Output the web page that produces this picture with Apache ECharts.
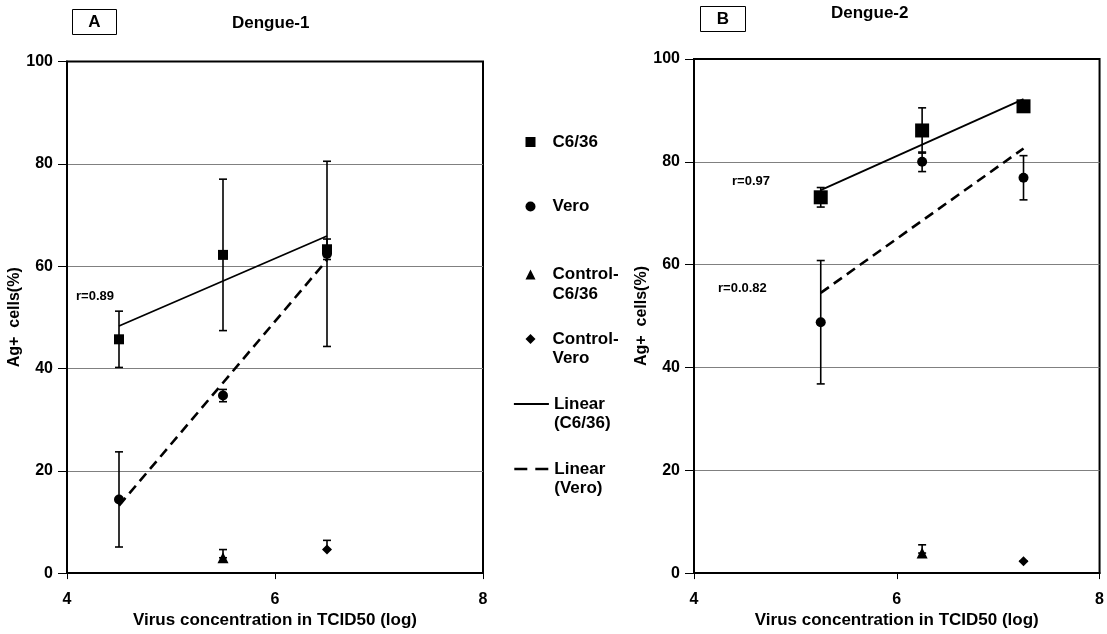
<!DOCTYPE html>
<html>
<head>
<meta charset="utf-8">
<script src="https://cdn.jsdelivr.net/npm/echarts@6/dist/echarts.min.js"></script>
<style>
  html, body { margin: 0; padding: 0; background: #fff; }
  #main { width: 1107px; height: 634px; }
</style>
</head>
<body>
<div id="main"></div>
<script>
var FONT = '"Liberation Sans", Arial, sans-serif'

// Dengue-1 (panel A)
var xA = [4.5, 5.5, 6.5]
var aC636 = [45.7, 62.2, 63.3]
var aC636Err = [5.5, 14.8, 2]
var aVero = [14.4, 34.7, 62.4]
var aVeroErr = [9.3, 1.2, 18.1]
var aCtrlX = [5.5, 6.5]
var aCtrlC636 = [3.0]
var aCtrlC636Err = [1.6]
var aCtrlVero = [4.6]
var aCtrlVeroErr = [1.8]
var aC636Fit = [[4.5, 48.3], [6.5, 65.9]]
var aVeroFit = [[4.5, 13.2], [6.5, 61.2]]

// Dengue-2 (panel B)
var xB = [5.25, 6.25, 7.25]
var bC636 = [73.1, 86.1, 90.8]
var bC636Err = [1.9, 4.4, 0.8]
var bVero = [48.8, 80.0, 76.9]
var bVeroErr = [12, 1.9, 4.3]
var bCtrlX = [6.25, 7.25]
var bCtrlC636 = [3.9]
var bCtrlC636Err = [1.6]
var bCtrlVero = [2.3]
var bCtrlVeroErr = [0]
var bC636Fit = [[5.25, 74.5], [7.25, 92.2]]
var bVeroFit = [[5.25, 54.5], [7.25, 82.6]]

var xTicks = [4, 6, 8]
var yTicks = [0, 20, 40, 60, 80, 100]

var legendLabels = {
  'C6/36': ['C6/36'],
  'Vero': ['Vero'],
  'Control-C6/36': ['Control-', 'C6/36'],
  'Control-Vero': ['Control-', 'Vero'],
  'Linear (C6/36)': ['Linear', '(C6/36)'],
  'Linear (Vero)': ['Linear', '(Vero)']
}

function pts(xs, ys) {
  return ys.map(function(y, i) { return [xs[i], y] })
}
// [x, y, top, bottom]
function errRows(xs, ys, err, plusOnly) {
  return ys.map(function(y, i) {
    return [xs[i], y, y + err[i], plusOnly ? y : y - err[i]]
  })
}

function errSeries(idx, rows) {
  return {
    type: 'custom',
    name: 'err' + idx,
    xAxisIndex: idx,
    yAxisIndex: idx,
    z: 1,
    silent: true,
    encode: { x: 0, y: [1, 2, 3] },
    renderItem: function(params, api) {
      var top = api.coord([api.value(0), api.value(2)])
      var bot = api.coord([api.value(0), api.value(3)])
      var w = 4
      var st = { stroke: '#000', lineWidth: 1.6 }
      return {
        type: 'group',
        children: [
          { type: 'line', shape: { x1: top[0], y1: top[1], x2: bot[0], y2: bot[1] }, style: st },
          { type: 'line', shape: { x1: top[0] - w, y1: top[1], x2: top[0] + w, y2: top[1] }, style: st },
          { type: 'line', shape: { x1: bot[0] - w, y1: bot[1], x2: bot[0] + w, y2: bot[1] }, style: st }
        ]
      }
    },
    data: rows
  }
}

function scatter(idx, name, symbol, size, data) {
  return {
    type: 'scatter',
    name: name,
    xAxisIndex: idx,
    yAxisIndex: idx,
    symbol: symbol,
    symbolSize: size,
    itemStyle: { color: '#000', opacity: 1 },
    z: 3,
    data: data
  }
}

function fit(idx, name, dashed, data) {
  return {
    type: 'line',
    name: name,
    xAxisIndex: idx,
    yAxisIndex: idx,
    symbol: 'none',
    z: 2,
    lineStyle: dashed ? { color: '#000', width: 2.6, type: [10, 6] } : { color: '#000', width: 1.8 },
    itemStyle: { color: '#000' },
    data: data
  }
}

function xAxisOf(idx) {
  return {
    type: 'value', gridIndex: idx, min: 4, max: 8, interval: 2,
    name: 'Virus concentration in TCID50 (log)',
    nameLocation: 'middle', nameGap: 36,
    nameTextStyle: { fontFamily: FONT, fontWeight: 'bold', fontSize: 17, color: '#000' },
    axisLine: { lineStyle: { color: '#000', width: 2 } },
    axisTick: { length: 6, lineStyle: { color: '#000', width: 1 } },
    axisLabel: { margin: 18, fontFamily: FONT, fontWeight: 'bold', fontSize: 16, color: '#000',
      formatter: function(v) { return xTicks.indexOf(v) >= 0 ? String(v) : '' } },
    splitLine: { show: false }
  }
}

function yAxisOf(idx) {
  return {
    type: 'value', gridIndex: idx, min: 0, max: 100, interval: 20,
    name: 'Ag+  cells(%)',
    nameLocation: 'middle', nameGap: 33, nameRotate: 90,
    nameTextStyle: { fontFamily: FONT, fontWeight: 'bold', fontSize: 16, color: '#000' },
    axisLine: { lineStyle: { color: '#000', width: 2 } },
    axisTick: { length: 9, lineStyle: { color: '#000', width: 1 } },
    axisLabel: { margin: 14, fontFamily: FONT, fontWeight: 'bold', fontSize: 16, color: '#000',
      formatter: function(v) { return yTicks.indexOf(v) >= 0 ? String(v) : '' } },
    splitLine: { show: true, showMinLine: false, showMaxLine: false, lineStyle: { color: '#808080', width: 1 } }
  }
}

// one legend block per entry; the icon lines up with the first text line
// (an empty line above keeps the two-line blocks centred on the icon)
function legendAt(name, top, isLine, dash) {
  var lines = legendLabels[name]
  var pad = isLine ? '' : '{p|\u00a0}'
  var text = lines.map(function(l) { return pad + '{t|' + l + '}' })
  if (lines.length > 1) text.unshift('{t|\u00a0}')
  var lg = {
    left: isLine ? 513 : 525.5, top: top, orient: 'vertical',
    itemWidth: isLine ? 35 : 10, itemHeight: 10, itemGap: 0,
    selectedMode: false, padding: 0,
    formatter: function() { return text.join('\n') },
    textStyle: {
      color: '#000',
      rich: {
        p: { width: 12 },
        t: { fontFamily: FONT, fontWeight: 'bold', fontSize: 17, color: '#000', lineHeight: 19.5 }
      }
    },
    data: [name]
  }
  if (isLine) {
    lg.itemStyle = { opacity: 0 }
    lg.lineStyle = dash ? { color: '#000', width: 2.6, type: [13, 8] } : { color: '#000', width: 1.8 }
  }
  return lg
}

function txt(x, y, s, size, align) {
  return {
    type: 'text', x: x, y: y,
    style: { text: s, font: 'bold ' + size + 'px ' + FONT, fill: '#000',
      textAlign: align || 'left', textVerticalAlign: 'middle' }
  }
}

var chart = echarts.init(document.getElementById('main'), null, { renderer: 'canvas' })

var option = {
  animation: false,
  backgroundColor: '#fff',
  grid: [
    { left: 67, top: 61.5, width: 416, height: 516.5, show: true, borderColor: '#000', borderWidth: 2, containLabel: false },
    { left: 694, top: 59, width: 411, height: 517, show: true, borderColor: '#000', borderWidth: 2, containLabel: false }
  ],
  xAxis: [xAxisOf(0), xAxisOf(1)],
  yAxis: [yAxisOf(0), yAxisOf(1)],
  legend: [
    legendAt('C6/36', 133.5, false),
    legendAt('Vero', 198, false),
    legendAt('Control-C6/36', 246.5, false),
    legendAt('Control-Vero', 311, false),
    legendAt('Linear (C6/36)', 376, true, false),
    legendAt('Linear (Vero)', 441, true, true)
  ],
  graphic: [
    { type: 'rect', shape: { x: 72.5, y: 9.5, width: 44, height: 25 }, style: { fill: '#fff', stroke: '#000', lineWidth: 1 } },
    txt(94.5, 22.5, 'A', 17, 'center'),
    txt(232, 23, 'Dengue-1', 17),
    { type: 'rect', shape: { x: 700.5, y: 6.5, width: 45, height: 25 }, style: { fill: '#fff', stroke: '#000', lineWidth: 1 } },
    txt(723, 19.5, 'B', 17, 'center'),
    txt(831, 13, 'Dengue-2', 17),
    txt(76, 296, 'r=0.89', 13),
    txt(732, 181, 'r=0.97', 13),
    txt(718, 288, 'r=0.0.82', 13)
  ],
  series: [
    errSeries(0, errRows(xA, aC636, aC636Err)
      .concat(errRows(xA, aVero, aVeroErr))
      .concat(errRows([aCtrlX[0]], aCtrlC636, aCtrlC636Err, true))
      .concat(errRows([aCtrlX[1]], aCtrlVero, aCtrlVeroErr, true))),
    scatter(0, 'C6/36', 'rect', 10, pts(xA, aC636)),
    scatter(0, 'Vero', 'circle', 10, pts(xA, aVero)),
    scatter(0, 'Control-C6/36', 'triangle', 11, pts([aCtrlX[0]], aCtrlC636)),
    scatter(0, 'Control-Vero', 'diamond', 10, pts([aCtrlX[1]], aCtrlVero)),
    fit(0, 'Linear (C6/36)', false, aC636Fit),
    fit(0, 'Linear (Vero)', true, aVeroFit),

    errSeries(1, errRows(xB, bC636, bC636Err)
      .concat(errRows(xB, bVero, bVeroErr))
      .concat(errRows([bCtrlX[0]], bCtrlC636, bCtrlC636Err, true))
      .concat(errRows([bCtrlX[1]], bCtrlVero, bCtrlVeroErr, true))),
    scatter(1, 'C6/36', 'rect', 14, pts(xB, bC636)),
    scatter(1, 'Vero', 'circle', 10, pts(xB, bVero)),
    scatter(1, 'Control-C6/36', 'triangle', 11, pts([bCtrlX[0]], bCtrlC636)),
    scatter(1, 'Control-Vero', 'diamond', 10, pts([bCtrlX[1]], bCtrlVero)),
    fit(1, 'Linear (C6/36)', false, bC636Fit),
    fit(1, 'Linear (Vero)', true, bVeroFit)
  ]
}

chart.setOption(option)
</script>
</body>
</html>
